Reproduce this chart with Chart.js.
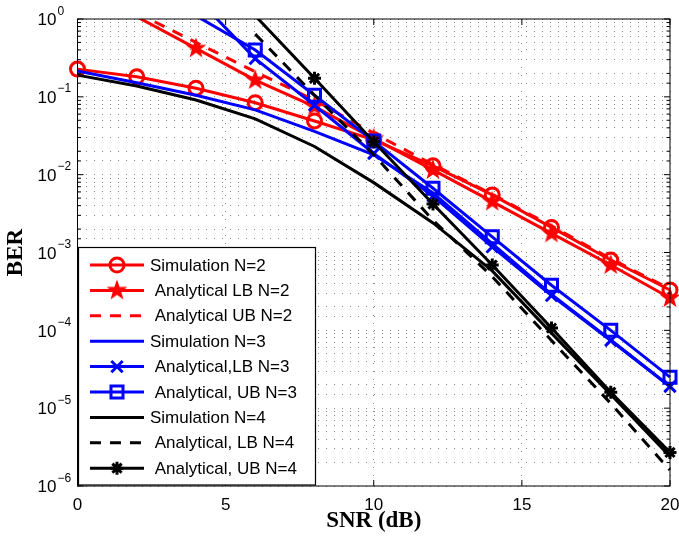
<!DOCTYPE html>
<html>
<head>
<meta charset="utf-8">
<script src="https://cdn.jsdelivr.net/npm/chart.js@4"></script>
<style>
  html, body { margin: 0; padding: 0; background: #fff; }
  canvas { display: block; }
</style>
</head>
<body>
<canvas id="berChart" width="679" height="543" style="width:679px;height:543px"></canvas>
<script>
// SNR points (dB)
const snr = [0, 2, 4, 6, 8, 10, 12, 14, 16, 18, 20];

// BER values (null = not plotted / far above 1)
const simN2 = [0.227, 0.181, 0.129, 0.084, 0.049, 0.028, 0.013, 0.0055, 0.0021, 0.0008, 0.00033];
const lbN2  = [null, 1.07, 0.42, 0.164, 0.075, 0.029, 0.0115, 0.0045, 0.00176, 0.00069, 0.00026];
const ubN2  = [null, 1.2, 0.5, 0.21, 0.091, 0.034, 0.0135, 0.0056, 0.0022, 0.00083, 0.00034];
const simN3 = [0.215, 0.152, 0.105, 0.068, 0.036, 0.018, 0.0058, 0.0013, 0.00029, 0.000075, 0.000019];
const lbN3  = [null, null, 1.9, 0.31, 0.078, 0.0187, 0.0053, 0.00118, 0.00028, 0.000074, 0.000019];
const ubN3  = [null, null, 1.1, 0.40, 0.105, 0.027, 0.0067, 0.00159, 0.00038, 0.0001, 0.000025];
const simN4 = [0.19, 0.138, 0.091, 0.052, 0.023, 0.0079, 0.0024, 0.00058, 0.000092, 0.000015, 0.0000024];
const lbN4  = [null, null, null, 0.64, 0.105, 0.018, 0.0026, 0.00049, 0.000074, 0.0000115, 0.0000016];
const ubN4  = [null, null, null, 1.1, 0.173, 0.0265, 0.0042, 0.00069, 0.000107, 0.000016, 0.0000027];

// axis ticks
const xTickStep = 5;
const yExponents = [0, -1, -2, -3, -4, -5, -6];

const SANS = "'Liberation Sans', Arial, Helvetica, sans-serif";
const SERIF = "'Liberation Serif', 'Times New Roman', serif";
const RED = '#ff0000', BLUE = '#0000ff', BLACK = '#000000';

// filled pentagram marker (matlab 'p')
function makePentagram(r, color) {
  const c = document.createElement('canvas');
  const s = Math.ceil(r * 2 + 2);
  c.width = s; c.height = s;
  const g = c.getContext('2d');
  g.fillStyle = color;
  g.beginPath();
  for (let i = 0; i < 10; i++) {
    const rr = i % 2 ? r * 0.4 : r;
    const a = -Math.PI / 2 + i * Math.PI / 5;
    g.lineTo(s / 2 + rr * Math.cos(a), s / 2 + rr * Math.sin(a));
  }
  g.closePath();
  g.fill();
  return c;
}
const redStar = makePentagram(11, RED);

function toPoints(values) {
  return snr.map((x, i) => ({ x: x, y: values[i] })).filter(p => p.y !== null);
}

function series(label, values, color, marker, markerRadius, dash) {
  return {
    label: label,
    data: toPoints(values),
    borderColor: color,
    backgroundColor: color,
    borderWidth: 3,
    borderDash: dash || [],
    pointStyle: marker || 'circle',
    markerRadius: marker ? markerRadius : 0,
    pointRadius: c => (!marker || (c.raw && c.raw.y > 1)) ? 0 : markerRadius,
    pointHoverRadius: 0,
    pointBorderColor: color,
    pointBackgroundColor: 'rgba(0,0,0,0)',
    pointBorderWidth: 3,
    tension: 0,
    clip: { left: 15, right: 15, top: 0, bottom: 0 }
  };
}

const datasets = [
  series('Simulation N=2', simN2, RED, 'circle', 7),
  series(' Analytical LB N=2', lbN2, RED, redStar, 11),
  series(' Analytical UB N=2', ubN2, RED, null, 0, [11, 9]),
  series('Simulation N=3', simN3, BLUE, null, 0),
  series(' Analytical,LB N=3', lbN3, BLUE, 'crossRot', 8),
  series(' Analytical, UB N=3', ubN3, BLUE, 'rect', 8.5),
  series('Simulation N=4', simN4, BLACK, null, 0),
  series(' Analytical, LB N=4', lbN4, BLACK, null, 0, [11, 9]),
  series(' Analytical, UB N=4', ubN4, BLACK, 'star', 6.5)
];
// later series drawn on top, like matlab
datasets.forEach((ds, i) => { ds.order = datasets.length - i; });

const matlabAxes = {
  id: 'matlabAxes',
  afterDraw(chart) {
    const { ctx, chartArea: a, scales: { x, y } } = chart;
    ctx.save();

    // inward tick marks on all four sides
    ctx.strokeStyle = '#000';
    ctx.lineWidth = 1;
    ctx.beginPath();
    x.ticks.forEach(t => {
      const px = x.getPixelForValue(t.value);
      ctx.moveTo(px, a.bottom); ctx.lineTo(px, a.bottom - 6);
      ctx.moveTo(px, a.top); ctx.lineTo(px, a.top + 6);
    });
    y.ticks.forEach(t => {
      const lg = Math.log10(t.value);
      const len = Math.abs(lg - Math.round(lg)) < 1e-9 ? 6 : 3.5;
      const py = y.getPixelForValue(t.value);
      ctx.moveTo(a.left, py); ctx.lineTo(a.left + len, py);
      ctx.moveTo(a.right, py); ctx.lineTo(a.right - len, py);
    });
    ctx.stroke();
    ctx.strokeRect(a.left, a.top, a.right - a.left, a.bottom - a.top);

    // y tick labels 10^k
    ctx.fillStyle = '#000';
    ctx.textAlign = 'left';
    yExponents.forEach(e => {
      const py = y.getPixelForValue(Math.pow(10, e));
      ctx.font = '17px ' + SANS;
      ctx.textBaseline = 'middle';
      ctx.fillText('10', 37.5, py + 1.5);
      const w = ctx.measureText('10').width;
      ctx.font = '12px ' + SANS;
      ctx.textBaseline = 'alphabetic';
      ctx.fillText(e === 0 ? '0' : '\u2212' + (-e), 37.5 + w + 1, py - 4.5);
    });

    // legend box, lower left inside the axes
    const bx = 78.5, by = 247.5, bw = 237, bh = 237.5;
    ctx.fillStyle = '#fff';
    ctx.fillRect(bx, by, bw, bh);
    ctx.strokeStyle = '#000';
    ctx.lineWidth = 1.2;
    ctx.strokeRect(bx, by, bw, bh);

    chart.data.datasets.forEach((ds, i) => {
      const ry = 265 + i * 25.4;
      ctx.strokeStyle = ds.borderColor;
      ctx.lineWidth = ds.borderWidth;
      ctx.setLineDash(ds.borderDash);
      ctx.beginPath();
      ctx.moveTo(90, ry); ctx.lineTo(144, ry);
      ctx.stroke();
      ctx.setLineDash([]);
      if (ds.markerRadius > 0) {
        ctx.fillStyle = ds.pointBackgroundColor;
        ctx.strokeStyle = ds.pointBorderColor;
        ctx.lineWidth = ds.pointBorderWidth;
        Chart.helpers.drawPoint(ctx, {
          pointStyle: ds.pointStyle, radius: ds.markerRadius,
          borderWidth: ds.pointBorderWidth, rotation: 0
        }, 117, ry);
      }
      ctx.fillStyle = '#000';
      ctx.font = '17px ' + SANS;
      ctx.textBaseline = 'middle';
      ctx.textAlign = 'left';
      ctx.fillText(ds.label, 150, ry + 1);
    });
    ctx.restore();
  }
};

const gridLook = { color: '#888888', lineWidth: 1, drawTicks: false };

new Chart(document.getElementById('berChart'), {
  type: 'line',
  data: { datasets: datasets },
  plugins: [matlabAxes],
  options: {
    responsive: false,
    animation: false,
    events: [],
    layout: { autoPadding: false, padding: { left: 0, right: 9, top: 19, bottom: 0 } },
    plugins: { legend: { display: false }, tooltip: { enabled: false } },
    scales: {
      x: {
        type: 'linear',
        min: 0,
        max: 20,
        ticks: { stepSize: xTickStep, color: '#000', font: { family: SANS, size: 17 }, padding: 9, maxRotation: 0 },
        grid: gridLook,
        border: { display: false, dash: [1, 7] },
        title: {
          display: true, text: 'SNR (dB)', color: '#000',
          font: { family: SERIF, size: 23, weight: 'bold' },
          padding: { top: 0, bottom: 8 }
        },
        afterFit(scale) {
          scale.height = 57;
          scale.paddingLeft = 0;
          scale.paddingRight = 0;
        }
      },
      y: {
        type: 'logarithmic',
        min: 1e-6,
        max: 1,
        ticks: { display: false, autoSkip: false },
        grid: gridLook,
        border: { display: false, dash: [1, 7] },
        title: {
          display: true, text: 'BER', color: '#000',
          font: { family: SERIF, size: 23, weight: 'bold' },
          padding: { top: 2, bottom: 0 }
        },
        afterFit(scale) {
          scale.width = 77.5;
          scale.paddingTop = 0;
          scale.paddingBottom = 0;
        }
      }
    }
  }
});
</script>
</body>
</html>
